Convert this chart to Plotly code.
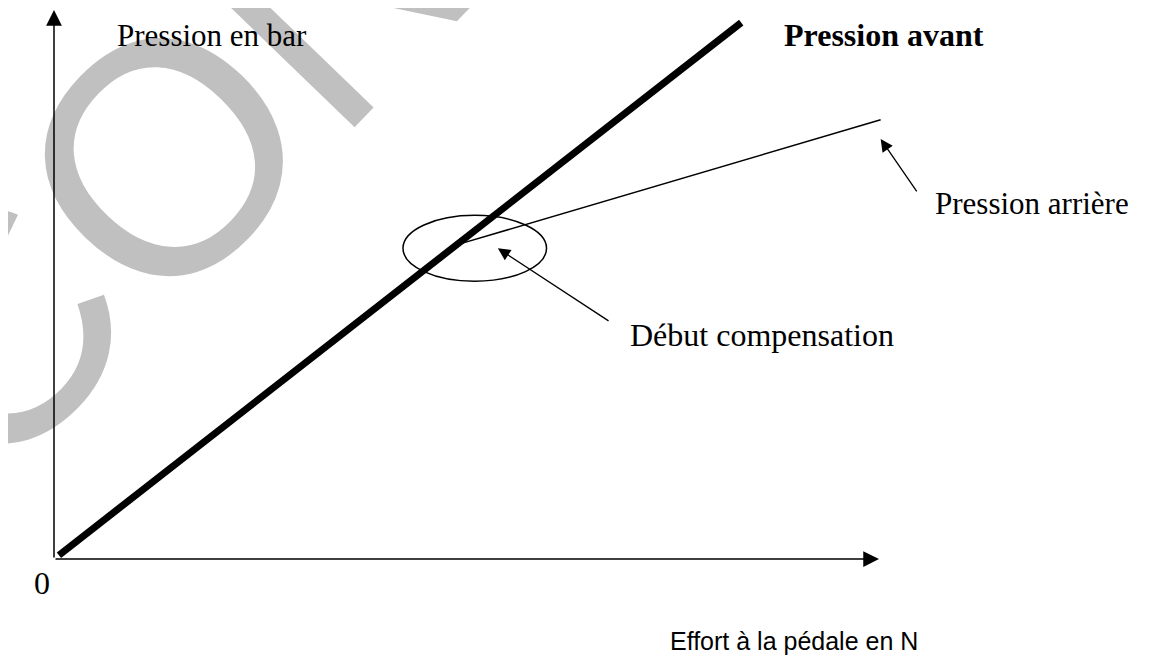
import plotly.graph_objects as go

# ---- data (schematic units: effort 0..100, pression 0..100) ----
effort_avant = [0.6, 83.3]
pression_avant = [0.7, 97.7]
effort_arriere = [49.2, 100.2]
pression_arriere = [57.4, 80.0]

# compensation zone (ellipse) : centre and half-sizes
comp_centre = (51.0, 56.6)
comp_half = (8.7, 6.0)

# axis extents
x_axis_end = 100.0
y_axis_end = 100.0

# label texts
label_y = "Pression en bar"
label_x = "Effort à la pédale en N"
label_avant = "Pression avant"
label_arriere = "Pression arrière"
label_debut = "Début compensation"
label_zero = "0"

# pointer arrows (tip, tail)
arrow_debut = ((53.8, 56.6), (67.4, 43.2))
arrow_arriere = ((100.2, 76.5), (104.7, 66.7))

# watermark letters (centre x, centre y) in the same units
wm_letters = ["C", "O", "N"]
wm_x = [-8.0, 13.3, 34.2]
wm_y = [41.5, 73.4, 105.2]

# page body has an 8px margin: figure is drawn 8px in from the page corner
W, H = 1141, 651
px_x = 8.25   # pixels per x unit
px_y = 5.49   # pixels per y unit
ox, oy = 46, 551
x_range = [-ox / px_x, (W - ox) / px_x]
y_range = [-(H - oy) / px_y, oy / px_y]

serif = "Liberation Serif, Times New Roman, serif"
sans = "Liberation Sans, Arial, sans-serif"

fig = go.Figure()

fig.add_trace(go.Scatter(x=effort_avant, y=pression_avant, mode="lines",
                         line=dict(color="black", width=7), hoverinfo="skip",
                         showlegend=False))
fig.add_trace(go.Scatter(x=effort_arriere, y=pression_arriere, mode="lines",
                         line=dict(color="black", width=1.5), hoverinfo="skip",
                         showlegend=False))

annotations = []
# watermark first (below everything else); paper refs so partly-outside letters still show
for t, wx, wy in zip(wm_letters, wm_x, wm_y):
    annotations.append(dict(
        x=(wx - x_range[0]) / (x_range[1] - x_range[0]),
        y=(wy - y_range[0]) / (y_range[1] - y_range[0]),
        xref="paper", yref="paper", text=t, showarrow=False,
        textangle=-46, xanchor="center", yanchor="middle",
        font=dict(family=sans, size=330, color="#c0c0c0")))

# axes as arrows
annotations.append(dict(x=0, y=y_axis_end, ax=0, ay=0, xref="x", yref="y",
                        axref="x", ayref="y", text="", showarrow=True,
                        arrowhead=2, arrowsize=2.1, arrowwidth=1.5, arrowcolor="black",
                        standoff=0, startstandoff=0))
annotations.append(dict(x=x_axis_end, y=0, ax=0, ay=0, xref="x", yref="y",
                        axref="x", ayref="y", text="", showarrow=True,
                        arrowhead=2, arrowsize=2.1, arrowwidth=1.5, arrowcolor="black",
                        standoff=0, startstandoff=0))
# pointer arrows
for (tip, tail) in (arrow_debut, arrow_arriere):
    annotations.append(dict(x=tip[0], y=tip[1], ax=tail[0], ay=tail[1], xref="x", yref="y",
                            axref="x", ayref="y", text="", showarrow=True,
                            arrowhead=2, arrowsize=1.9, arrowwidth=1.3, arrowcolor="black",
                            standoff=0, startstandoff=0))

# labels
annotations += [
    dict(x=7.4, y=95.4, text=label_y, xanchor="left", yanchor="middle",
         font=dict(family=serif, size=31, color="black")),
    dict(x=88.2, y=95.4, text="<b>" + label_avant + "</b>", xanchor="left", yanchor="middle",
         font=dict(family=serif, size=32, color="black")),
    dict(x=106.5, y=64.8, text=label_arriere, xanchor="left", yanchor="middle",
         font=dict(family=serif, size=31, color="black")),
    dict(x=69.6, y=40.8, text=label_debut, xanchor="left", yanchor="middle",
         font=dict(family=serif, size=32, color="black")),
    dict(x=-1.45, y=-4.4, text=label_zero, xanchor="center", yanchor="middle",
         font=dict(family=serif, size=32, color="black")),
    dict(x=74.4, y=-14.9, text=label_x, xanchor="left", yanchor="middle",
         font=dict(family=sans, size=25, color="black")),
]
for a in annotations:
    a.setdefault("xref", "x")
    a.setdefault("yref", "y")
    a.setdefault("showarrow", False)

fig.update_layout(
    width=W, height=H,
    margin=dict(l=0, r=0, t=0, b=0),
    plot_bgcolor="white", paper_bgcolor="white",
    xaxis=dict(range=x_range, visible=False, fixedrange=True),
    yaxis=dict(range=y_range, visible=False, fixedrange=True),
    annotations=annotations,
    shapes=[dict(type="circle", xref="x", yref="y",
                 x0=comp_centre[0] - comp_half[0], x1=comp_centre[0] + comp_half[0],
                 y0=comp_centre[1] - comp_half[1], y1=comp_centre[1] + comp_half[1],
                 line=dict(color="black", width=1.5))],
)

fig.write_html("out.html")
